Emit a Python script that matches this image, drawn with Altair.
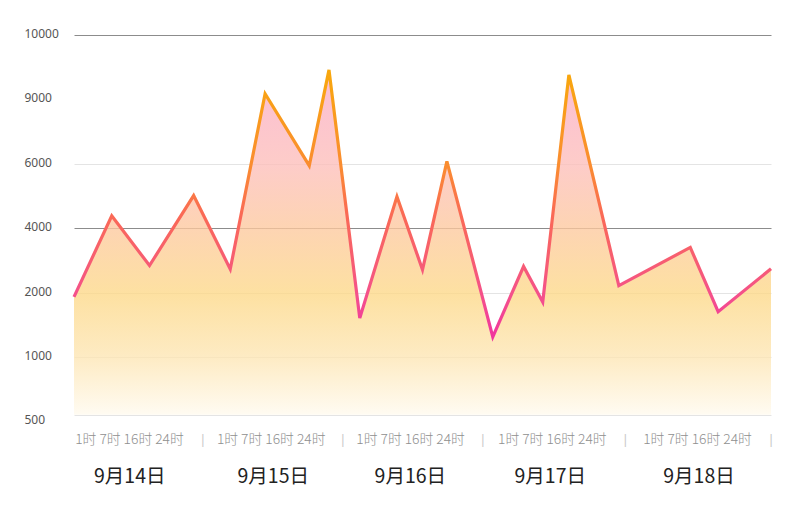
import altair as alt
import pandas as pd

# ---- data ----
hours = [0, 6.5, 13.0, 20.6, 26.9, 32.9, 40.5, 43.9, 49.2, 55.6, 60.0, 64.2,
         72.1, 77.4, 80.7, 85.2, 93.8, 106.1, 110.9, 120]
values = [1940, 4390, 2850, 5020, 2740, 9090, 5950, 9460, 1610, 4990, 2720, 6120,
          1320, 2820, 1860, 9380, 2230, 3410, 1710, 2750]

y_ticks = [500, 1000, 2000, 4000, 6000, 9000, 10000]
day_labels = ["9月14日", "9月15日", "9月16日", "9月17日", "9月18日"]
hour_labels = ["1时", "7时", "16时", "24时"]
day_centers = [9.6, 34.3, 57.9, 82.0, 107.6]
hour_starts = [0.2, 24.6, 48.6, 73.0, 98.0]
separators = [22.2, 46.3, 70.4, 94.9, 120]

df = pd.DataFrame({"h": hours, "v": values})
days_df = pd.DataFrame({"h": day_centers, "label": day_labels})
hrs_df = pd.DataFrame({"h": hour_starts, "label": [" ".join(hour_labels)] * len(hour_starts)})
sep_df = pd.DataFrame({"h": separators, "label": ["|"] * len(separators)})

W, H = 697, 380
x_scale = alt.Scale(domain=[0, 120], nice=False, zero=False)
y_scale = alt.Scale(domain=y_ticks, range=[379.7, 322.4, 258, 193.4, 129, 64.5, 0],
                    zero=False, nice=False)

y_axis = alt.Axis(
    values=y_ticks, format="d", title=None, domain=False, ticks=False, tickSize=0,
    labelAlign="left", labelPadding=50, labelBaseline="middle",
    labelOffset={"condition": {"test": "datum.value == 500", "value": 5}, "value": -2},
    labelFont="Noto Sans", labelFontSize=12, labelColor="#555555",
    gridColor={"condition": {"test": "datum.value == 10000 || datum.value == 4000",
                             "value": "#8c8c8c"}, "value": "#e4e4e4"},
    gridOpacity={"condition": {"test": "datum.value == 9000", "value": 0}, "value": 1},
    gridWidth=1,
)

area_grad = alt.LinearGradient(
    gradient="linear", x1=0, y1=0, x2=0, y2=1,
    stops=[
        alt.GradientStop(color="#fbafc4", offset=0.06),
        alt.GradientStop(color="#fdbeb9", offset=0.28),
        alt.GradientStop(color="#fdc89d", offset=0.46),
        alt.GradientStop(color="#fdd887", offset=0.65),
        alt.GradientStop(color="#fde5b2", offset=0.83),
        alt.GradientStop(color="#fffaee", offset=1.0),
    ],
)
line_grad = alt.LinearGradient(
    gradient="linear", x1=0, y1=0, x2=0, y2=1,
    stops=[
        alt.GradientStop(color="#f8a80c", offset=0.0),
        alt.GradientStop(color="#fa8c30", offset=0.36),
        alt.GradientStop(color="#fa6a55", offset=0.54),
        alt.GradientStop(color="#f65a78", offset=0.75),
        alt.GradientStop(color="#f4508c", offset=0.85),
        alt.GradientStop(color="#f0359e", offset=1.0),
    ],
)

base = alt.Chart(df)
area = base.mark_area(fill=area_grad, fillOpacity=0.78, interpolate="linear").encode(
    x=alt.X("h:Q", scale=x_scale, axis=None),
    y=alt.Y("v:Q", scale=y_scale, axis=y_axis),
    y2=alt.datum(500),
)
line = base.mark_line(stroke=line_grad, strokeWidth=3.2, strokeJoin="miter",
                      interpolate="linear").encode(
    x=alt.X("h:Q", scale=x_scale, axis=None),
    y=alt.Y("v:Q", scale=y_scale, axis=y_axis),
)

hour_text = alt.Chart(hrs_df).mark_text(
    align="left", baseline="middle", font="Noto Sans CJK SC", fontSize=13.8,
    color="#8f8f8f", fontWeight=300,
).encode(x=alt.X("h:Q", scale=x_scale, axis=None), y=alt.value(405), text="label:N")

sep_text = alt.Chart(sep_df).mark_text(
    align="center", baseline="middle", font="Noto Sans", fontSize=13, color="#c8c8c8",
).encode(x=alt.X("h:Q", scale=x_scale, axis=None), y=alt.value(405), text="label:N")

day_text = alt.Chart(days_df).mark_text(
    align="center", baseline="middle", font="Noto Sans CJK SC", fontSize=19.5,
    color="#222222",
).encode(x=alt.X("h:Q", scale=x_scale, axis=None), y=alt.value(442), text="label:N")

chart = alt.layer(area, line, hour_text, sep_text, day_text).properties(
    width=W, height=H,
    autosize=alt.AutoSizeParams(type="none"),
    padding={"left": 66, "top": 27, "right": 21, "bottom": 85},
).configure(background="white").configure_view(strokeWidth=0, stroke="transparent")

chart.save("out.html", embed_options={"renderer": "svg", "actions": False})
